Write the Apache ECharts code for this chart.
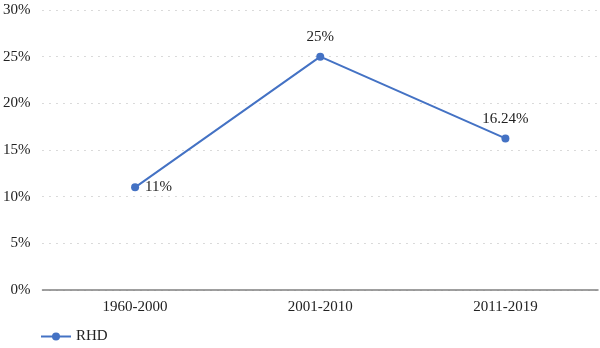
<!DOCTYPE html>
<html>
<head>
<meta charset="utf-8">
<script src="https://cdn.jsdelivr.net/npm/echarts@6/dist/echarts.min.js"></script>
<style>
  html, body { margin: 0; padding: 0; background: #fff; }
  #chart { width: 600px; height: 348px; }
</style>
</head>
<body>
<div id="chart"></div>
<script>
// Share of RHD by period
const periods = ['1960-2000', '2001-2010', '2011-2019'];
const rhdValues = [11, 25, 16.24];
const rhdLabels = ['11%', '25%', '16.24%'];
const yTicks = { min: 0, max: 30, step: 5 };

const FONT = '"Liberation Serif", "DejaVu Serif", serif';
const BLUE = '#4472C4';
const FS = 15;

const chart = echarts.init(document.getElementById('chart'));
chart.setOption({
  animation: false,
  textStyle: { fontFamily: FONT },
  grid: { left: 40, right: 2, top: 10, bottom: 58 },
  legend: {
    left: 35,
    top: 324,
    itemWidth: 30,
    itemHeight: 10,
    itemGap: 10,
    textStyle: { fontFamily: FONT, fontSize: FS, color: '#222' },
    data: ['RHD']
  },
  xAxis: {
    type: 'category',
    data: periods,
    boundaryGap: true,
    axisLine: { lineStyle: { color: '#808080', width: 1.5 } },
    axisTick: { show: false },
    axisLabel: { fontFamily: FONT, fontSize: FS, color: '#222', margin: 10 }
  },
  yAxis: {
    type: 'value',
    min: yTicks.min,
    max: yTicks.max,
    interval: yTicks.step,
    axisLine: { show: false },
    axisTick: { show: false },
    axisLabel: {
      fontFamily: FONT, fontSize: FS, color: '#222', margin: 12,
      formatter: v => v + '%'
    },
    splitLine: { lineStyle: { color: '#b5b5b5', type: [1, 6], width: 1 } }
  },
  series: [{
    name: 'RHD',
    type: 'line',
    data: rhdValues.map((v, i) => ({
      value: v,
      label: {
        show: true,
        position: i === 0 ? 'right' : 'top',
        distance: i === 0 ? 6 : 8,
        formatter: rhdLabels[i]
      }
    })),
    symbol: 'circle',
    symbolSize: 8,
    lineStyle: { color: BLUE, width: 2 },
    itemStyle: { color: BLUE },
    label: { fontFamily: FONT, fontSize: FS, color: '#222' }
  }]
});
</script>
</body>
</html>
